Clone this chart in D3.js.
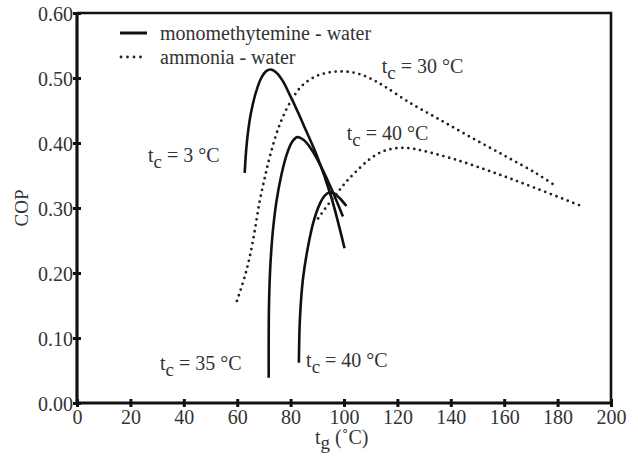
<!DOCTYPE html>
<html><head><meta charset="utf-8">
<script src="https://cdn.jsdelivr.net/npm/d3@7"></script>
<style>
html,body{margin:0;padding:0;background:#fff;}
</style></head>
<body>
<svg id="chart" width="638" height="459"></svg>
<script>
// ---- data ----
const xTicks = [0,20,40,60,80,100,120,140,160,180,200];
const yTicks = [0,0.1,0.2,0.3,0.4,0.5,0.6];

// monomethylamine - water (solid)
const mmw3_tg  = [62.8,63.6,65.0,66.8,69.0,71.0,72.6,74.5,77.0,79.7,82.8,85.9,89.9,95.0,100.2];
const mmw3_cop = [0.354,0.400,0.443,0.475,0.500,0.511,0.513,0.509,0.496,0.474,0.447,0.418,0.380,0.320,0.238];
const mmw35_tg  = [71.8,71.9,72.4,73.3,74.7,76.5,78.6,80.6,82.5,84.8,87.2,89.7,94.7,99.6];
const mmw35_cop = [0.039,0.148,0.210,0.262,0.310,0.350,0.383,0.402,0.409,0.405,0.394,0.377,0.335,0.287];
const mmw40_tg  = [83.1,83.5,84.6,86.5,88.6,90.9,92.8,94.6,96.5,98.4,100.9];
const mmw40_cop = [0.062,0.130,0.190,0.240,0.279,0.306,0.319,0.324,0.322,0.315,0.303];

// ammonia - water (dotted)
const aw30_tg  = [59.9,62.8,64.7,66.6,68.4,70.3,72.4,75.9,80.3,84.5,89.7,95.0,100.0,105.0,110.0,115.2,124.6,135.8,148.3,160.8,172.1,179.6];
const aw30_cop = [0.157,0.194,0.225,0.266,0.310,0.346,0.382,0.428,0.466,0.489,0.503,0.509,0.510,0.507,0.499,0.487,0.462,0.436,0.407,0.379,0.353,0.333];
const aw40_tg  = [90.3,94.0,97.8,101.0,104.5,109.6,114.5,119.6,124.5,129.6,142.1,157.1,172.1,189.5];
const aw40_cop = [0.284,0.305,0.325,0.341,0.356,0.375,0.387,0.392,0.392,0.388,0.374,0.353,0.330,0.302];

const legendLabels = ["monomethytemine - water","ammonia - water"];
const annotations = [
  {text:"3 °C",  tg:26.6,  cop:0.371},
  {text:"30 °C", tg:114.1, cop:0.508},
  {text:"40 °C", tg:101.0, cop:0.405},
  {text:"35 °C", tg:31.1,  cop:0.051},
  {text:"40 °C", tg:85.8,  cop:0.056}
];

// ---- layout ----
const FONT = "'Liberation Serif','DejaVu Serif','Times New Roman',serif";
const svg = d3.select("#chart").attr("font-family",FONT).style("font-family",FONT);
const L = 77, T = 13, R = 611, B = 403;
const x = d3.scaleLinear().domain([0,200]).range([L,R]);
const y = d3.scaleLinear().domain([0,0.6]).range([B,T]);

// frame top / right
svg.append("path").attr("d",`M${L},${T}H${R}V${B}`)
  .attr("fill","none").attr("stroke","#111").attr("stroke-width",2.6);

// axes
const xAxis = d3.axisBottom(x).tickValues(xTicks).tickSize(8).tickPadding(2).tickFormat(d3.format("d"));
const gx = svg.append("g").attr("transform",`translate(0,${B-4})`).call(xAxis);
const yAxis = d3.axisLeft(y).tickValues(yTicks).tickSize(8).tickPadding(0).tickFormat(d3.format(".2f"));
const gy = svg.append("g").attr("transform",`translate(${L+4},0)`).call(yAxis);
[gx,gy].forEach(g=>{
  g.attr("font-family",FONT).attr("font-size",20);
  g.select(".domain").remove();
  g.selectAll(".tick line").attr("stroke","#111").attr("stroke-width",3);
  g.selectAll(".tick text").attr("fill","#333").style("font-family",FONT).style("font-size","20px");
});
gx.selectAll(".tick text").attr("dy","0.71em").attr("y",11);
gy.selectAll(".tick text").attr("x",-8).attr("dy","0.35em");
svg.append("line").attr("x1",L).attr("x2",L).attr("y1",T-1).attr("y2",B+1.5).attr("stroke","#111").attr("stroke-width",3.2);
svg.append("line").attr("x1",L-1.5).attr("x2",R+1).attr("y1",B).attr("y2",B).attr("stroke","#111").attr("stroke-width",3.2);

function txt(sel){ return sel.attr("fill","#333").style("font-family",FONT).style("font-size","20px"); }

// axis titles
const xt = txt(svg.append("text").attr("x",315).attr("y",444));
xt.append("tspan").text("t");
xt.append("tspan").text("g").attr("dy",5).style("font-size","19px");
xt.append("tspan").text(" (˚C)").attr("dy",-5);
txt(svg.append("text").attr("transform","translate(28,208) rotate(-90)")
  .attr("text-anchor","middle").text("COP")).style("font-size","19px");

// curves
const line = d3.line().x(d=>x(d[0])).y(d=>y(d[1])).curve(d3.curveCatmullRom.alpha(0.5));
const zipS = (a,b)=>a.map((v,i)=>[v,b[i]]);
const solid = [[mmw3_tg,mmw3_cop],[mmw35_tg,mmw35_cop],[mmw40_tg,mmw40_cop]];
const dotted = [[aw30_tg,aw30_cop],[aw40_tg,aw40_cop]];
solid.forEach(s=>svg.append("path").attr("d",line(zipS(s[0],s[1])))
  .attr("fill","none").attr("stroke","#111").attr("stroke-width",2.6));
dotted.forEach(s=>svg.append("path").attr("d",line(zipS(s[0],s[1])))
  .attr("fill","none").attr("stroke","#222").attr("stroke-width",2.8)
  .attr("stroke-linecap","round").attr("stroke-dasharray","0,6"));

// legend
svg.append("line").attr("x1",120).attr("x2",147).attr("y1",33).attr("y2",33)
  .attr("stroke","#111").attr("stroke-width",3);
svg.append("line").attr("x1",121).attr("x2",147).attr("y1",57).attr("y2",57)
  .attr("stroke","#222").attr("stroke-width",2.8).attr("stroke-linecap","round").attr("stroke-dasharray","0,6.5");
txt(svg.append("text").attr("x",160).attr("y",40)).text(legendLabels[0]);
txt(svg.append("text").attr("x",160).attr("y",64)).text(legendLabels[1]);

// annotations
annotations.forEach(a=>{
  const t = txt(svg.append("text").attr("x",x(a.tg)).attr("y",y(a.cop)));
  t.append("tspan").text("t");
  t.append("tspan").text("c").attr("dy",6).style("font-size","19px");
  t.append("tspan").text(" = "+a.text).attr("dy",-6);
});
</script>
</body></html>
